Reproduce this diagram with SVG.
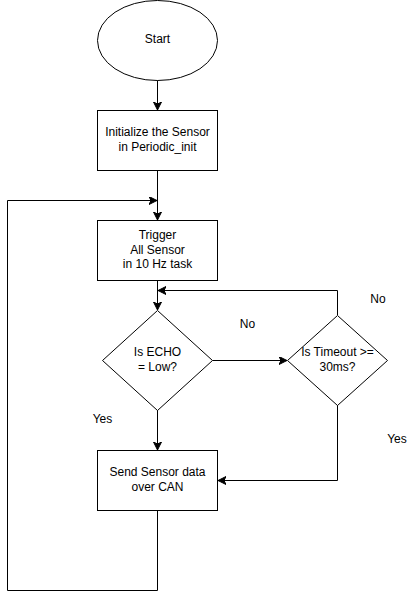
<svg xmlns="http://www.w3.org/2000/svg" width="418" height="592" viewBox="0 0 418 592">
<style>
.shape{fill:#ffffff;stroke:#000000;stroke-width:1}
.edge{fill:none;stroke:#000000;stroke-width:1}
text{font-family:"Liberation Sans",Arial,sans-serif;font-size:12px;fill:#000000;text-anchor:middle}
</style>
<defs>
<marker id="arrow" markerUnits="userSpaceOnUse" markerWidth="9" markerHeight="9" refX="8" refY="4" orient="auto" viewBox="0 0 9 9">
<path d="M0,0 L8,4 L0,8 L2,4 Z" fill="#000000" stroke="#000000" stroke-width="1"/>
</marker>
</defs>
<rect width="418" height="592" fill="#ffffff"/>
<g id="connectors">
<path class="edge" d="M157.5,80 L157.5,110" marker-end="url(#arrow)"/>
<path class="edge" d="M157.5,170.5 L157.5,220" marker-end="url(#arrow)"/>
<path class="edge" d="M157.5,280.5 L157.5,310" marker-end="url(#arrow)"/>
<path class="edge" d="M212.5,360.5 L287,360.5" marker-end="url(#arrow)"/>
<path class="edge" d="M337.5,315 L337.5,290.5 L158,290.5" marker-end="url(#arrow)"/>
<path class="edge" d="M157.5,410 L157.5,450" marker-end="url(#arrow)"/>
<path class="edge" d="M337.5,405 L337.5,480.5 L218,480.5" marker-end="url(#arrow)"/>
<path class="edge" d="M157.5,510.5 L157.5,590.5 L7.5,590.5 L7.5,200.5 L157,200.5" marker-end="url(#arrow)"/>
</g>
<g id="start">
<ellipse class="shape" cx="157.5" cy="40.5" rx="60" ry="40"/>
<text x="157.5" y="43">Start</text>
</g>
<g id="init">
<rect class="shape" x="97.5" y="110.5" width="120" height="60"/>
<text x="157.5" y="136">Initialize the Sensor</text>
<text x="157.5" y="151">in Periodic_init</text>
</g>
<g id="trigger">
<rect class="shape" x="97.5" y="220.5" width="120" height="60"/>
<text x="157.5" y="239">Trigger</text>
<text x="157.5" y="254">All Sensor</text>
<text x="157.5" y="268">in 10 Hz task</text>
</g>
<g id="echo">
<polygon class="shape" points="157.5,310.5 212.5,360.5 157.5,410.5 102.5,360.5"/>
<text x="157.5" y="356">Is ECHO</text>
<text x="157.5" y="371">= Low?</text>
</g>
<g id="timeout">
<polygon class="shape" points="337.5,315.5 387.5,360.5 337.5,405.5 287.5,360.5"/>
<text x="337.5" y="356">Is Timeout &gt;=</text>
<text x="337.5" y="371">30ms?</text>
</g>
<g id="send">
<rect class="shape" x="97.5" y="450.5" width="120" height="60"/>
<text x="157.5" y="476">Send Sensor data</text>
<text x="157.5" y="491">over CAN</text>
</g>
<g id="labels">
<text x="247.5" y="327.5">No</text>
<text x="378" y="302.5">No</text>
<text x="397" y="442.5">Yes</text>
<text x="102.5" y="422.5">Yes</text>
</g>
</svg>
